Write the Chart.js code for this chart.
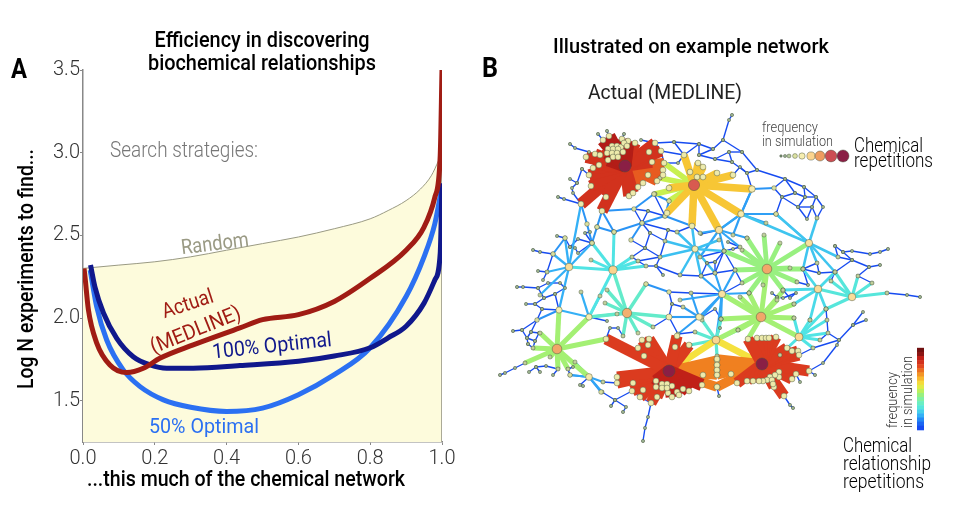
<!DOCTYPE html>
<html>
<head>
<meta charset="utf-8">
<script src="https://cdn.jsdelivr.net/npm/chart.js@4"></script>
<style>
  html, body { margin: 0; background: #fff; }
  canvas { position: absolute; top: 0; }
  #chartA { left: 0; }
  #chartB { left: 470px; }
</style>
</head>
<body>
<canvas id="chartA" width="470" height="520"></canvas>
<canvas id="chartB" width="490" height="520"></canvas>
<script>
// panel A series
const randomX = [0, .1, .2, .3, .4, .5, .6, .7, .8, .85, .9, .94, .97, .99, 1];
const randomY = [2.3, 2.32, 2.34, 2.37, 2.41, 2.45, 2.49, 2.54, 2.6, 2.65, 2.71, 2.78, 2.86, 2.95, 3.0];
const actualX = [.003, .006, .015, .038, .075, .122, .168, .214, .307, .437, .5, .6, .7, .8, .9, .95, .98, .995, 1];
const actualY = [2.3, 2.24, 2.05, 1.85, 1.716, 1.67, 1.696, 1.756, 1.837, 1.94, 1.99, 2.02, 2.1, 2.24, 2.41, 2.55, 2.73, 2.98, 3.5];
const optimal100X = [.021, .033, .057, .094, .14, .187, .233, .307, .437, .6, .7, .8, .85, .9, .95, .98, .995, 1];
const optimal100Y = [2.32, 2.19, 2.03, 1.877, 1.766, 1.716, 1.696, 1.696, 1.712, 1.738, 1.77, 1.82, 1.88, 1.95, 2.09, 2.23, 2.39, 2.815];
const optimal50X = [.02, .038, .066, .112, .159, .224, .3, .4, .5, .6, .7, .8, .9, .95, .98, 1];
const optimal50Y = [2.29, 2.07, 1.867, 1.686, 1.585, 1.505, 1.46, 1.435, 1.455, 1.536, 1.657, 1.82, 2.13, 2.37, 2.57, 2.795];
const edgeX = [1, 1];
const edgeY = [1.25, 3];
const xTicks = [0, .2, .4, .6, .8, 1];
const yTicks = [1.5, 2, 2.5, 3, 3.5];

// panel B: hubs [x, y, repetitions]
const hubs = [
  [625,166,1], [694,185,.75], [695,249,.34], [767,269,.62], [613,270,.5], [569,267,.45], [627,313,.6],
  [557,349,.62], [669,371,1], [762,364,1], [761,317,.62], [799,337,.48], [716,340,.48], [722,294,.42],
  [809,243,.42], [719,230,.42], [741,214,.36], [752,189,.36], [818,289,.45], [852,297,.45], [589,377,.38],
  [699,317,.36], [589,317,.34], [559,310,.34], [669,317,.32]
];
// fans: [hub index, edge frequency, target x,y list]
const fanTopDark = [0, .95, [603,140, 609,136, 622,139, 628,141, 612,146, 617,146, 621,147, 608,149, 613,149, 618,149, 623,152, 607,153, 612,153, 617,153, 608,160, 613,157, 618,157, 624,143, 627,146]];
const fanTopRed = [0, .9, [586,157, 595,154, 600,155, 635,143, 599,165, 593,168, 589,175, 591,186, 606,197, 602,211, 581,204, 629,196, 633,193, 649,152, 655,143, 661,151, 652,162]];
const fanTopOrange = [0, .84, [638,187, 643,183, 648,175, 657,181, 663,170, 663,175, 664,163]];
const fanMidOrange = [1, .7, [684,155, 698,163, 703,167, 717,173, 692,226, 719,230, 741,214, 752,189, 733,175, 667,213, 669,188, 697,177, 703,177, 690,172]];
const fanMidLime = [1, .58, [660,178, 664,163, 669,201, 655,194]];
const fanH3 = [2, .23, [692,226, 719,240, 660,257, 680,275, 701,276, 715,273, 665,241, 724,251, 677,232]];
const fanH4 = [3, .5, [724,251, 747,238, 735,270, 742,250, 780,243, 764,235, 809,243, 790,268, 803,269, 742,283, 749,293, 783,290, 797,282, 763,285]];
const fanH5 = [4, .3, [569,267, 592,243, 614,232, 591,260, 632,257, 589,317, 646,266, 638,261]];
const fanH6 = [5, .2, [565,238, 553,254, 547,272, 592,243, 559,310, 581,204, 540,295]];
const fanH7 = [6, .36, [605,303, 607,290, 613,270, 646,284, 669,317, 589,317, 617,314, 653,327, 638,333, 623,336]];
const fanH8 = [7, .52, [589,317, 606,339, 559,310, 589,377, 533,348, 525,363, 550,357, 540,333, 558,369, 568,369]];
const fanBotRed = [8, .88, [606,339, 638,348, 644,356, 642,340, 649,339, 648,345, 675,347, 677,336, 689,345, 617,377, 617,383, 633,383, 632,391, 643,390, 640,397, 651,403, 657,397, 668,393]];
const fanBotDark = [8, .94, [656,381, 662,384, 667,384, 672,386, 656,387, 662,388, 667,388, 677,392, 683,389, 689,391, 672,397, 679,395, 702,385]];
const fanBotOrange = [8, .8, [717,360, 717,365, 717,370, 717,375, 717,387]];
const fanBotYellow = [8, .66, [716,340]];
const fanRightRed = [9, .88, [748,339, 757,338, 762,338, 766,338, 769,338, 776,337, 787,348, 792,351, 798,351, 799,355, 809,371, 796,374, 792,379, 784,396, 779,372, 779,377, 775,375, 770,377, 767,380, 772,380, 763,381, 759,381, 753,381, 747,381, 737,383, 774,387, 773,384]];
const fanRightOrange = [9, .8, [717,359, 717,365, 717,370, 717,375, 731,374, 703,375, 717,387]];
const fanRightYellow = [9, .66, [716,340]];
const fanH11 = [10, .52, [767,269, 740,297, 749,293, 722,294, 794,304, 783,291, 777,300, 794,318, 721,319, 716,340, 738,330, 799,337, 748,339]];
const fanH12 = [11, .3, [794,318, 810,320, 827,320, 826,309, 828,333, 820,340, 813,348, 780,355]];
const fanH13 = [12, .34, [702,320, 721,319, 738,330, 695,332, 717,356, 690,345, 761,317]];
const fanH14 = [13, .18, [702,317, 721,319, 716,340, 715,273, 701,276, 749,293, 735,270, 680,300]];
const fanH15 = [14, .24, [776,214, 741,214, 803,269, 817,263, 835,272, 838,257, 817,218]];
const fanH16 = [15, .18, [741,214, 747,238, 740,247, 724,251, 700,233, 700,257]];
const fanH17 = [16, .17, [752,189, 776,214, 766,223, 733,235]];
const fanH19 = [18, .28, [794,304, 810,320, 835,272, 803,269, 783,290, 826,309]];
const fanH20 = [19, .32, [858,276, 835,272, 826,309, 831,281, 872,283, 887,293, 818,289]];
const fanH21 = [20, .18, [603,382, 602,392, 570,375, 575,362]];
const fanH22 = [21, .17, [669,317, 691,293, 683,307, 722,294, 678,334]];
const fanH23 = [22, .2, [559,310, 581,292, 600,296, 627,313]];

// mesh of low frequency links, each list is one path of x,y
const skyChains = [
  [581,204, 587,224, 592,243], [592,243, 597,227], [602,211, 597,227, 614,232, 602,211], [565,238, 553,254],
  [654,194, 634,209, 602,211], [654,194, 669,201, 665,216, 692,226], [614,232, 642,223, 631,240],
  [719,230, 741,214], [741,214, 776,214, 809,243], [752,189, 741,214], [752,189, 774,188], [646,284, 669,292],
  [669,317, 699,317], [537,320, 559,310], [601,392, 589,377], [589,377, 570,375], [665,216, 642,223]
];
const blueChains = [
  [641,140, 655,143, 674,142, 699,144, 713,149, 723,140, 729,120, 732,115], [655,143, 661,151, 684,155, 674,142],
  [684,155, 699,144, 699,155, 713,149], [699,155, 715,159, 729,152, 742,152, 723,140], [742,152, 757,170, 747,173, 732,162, 729,152],
  [715,159, 732,162], [757,170, 785,179, 774,188, 782,197, 795,193, 785,179, 804,187, 816,197, 805,197, 795,193],
  [804,187, 805,197, 798,207, 812,207, 816,197, 823,207, 817,218, 812,207, 807,219, 798,207, 782,197, 776,214],
  [752,189, 747,173, 740,167, 733,175], [661,151, 664,163, 678,163, 684,155], [664,163, 657,181],
  [634,209, 648,211, 665,216], [654,194, 665,216], [634,209, 642,223, 648,211], [642,223, 668,230, 665,241, 650,233, 642,223],
  [631,240, 645,248, 650,233], [645,248, 660,257, 665,241], [645,248, 632,257, 638,261, 646,266, 656,266, 660,257], [638,261, 660,257],
  [663,275, 656,266, 680,275], [668,230, 677,232, 692,226], [692,226, 701,234, 719,230], [680,275, 701,276, 715,273, 735,270, 724,251, 715,273],
  [724,251, 700,257], [669,292, 691,293, 722,294], [669,292, 672,304, 669,317, 653,327], [683,307, 672,304], [669,317, 678,334, 695,332, 716,340],
  [570,144, 575,148, 589,152], [582,169, 577,183, 572,188, 573,193, 581,204], [570,179, 577,183], [558,197, 564,199, 581,204], [582,169, 589,175],
  [598,134, 603,140], [607,131, 609,136], [624,134, 622,139], [557,236, 565,238], [533,250, 540,252, 553,254], [538,271, 547,272, 543,280],
  [565,238, 570,247, 578,239, 592,243], [570,247, 575,248, 578,253, 592,243], [590,232, 585,233, 592,243], [553,254, 547,272],
  [517,287, 523,287, 538,288, 544,298, 555,294, 565,288, 560,283, 548,283, 538,288], [526,304, 535,304, 542,309, 537,320, 522,330, 513,331],
  [537,320, 531,332, 539,333, 535,341, 527,338, 522,330], [544,298, 535,304], [555,294, 559,310, 542,309], [528,344, 533,348, 535,341], [531,332, 527,338, 528,344],
  [525,363, 515,368, 505,373, 500,375], [536,367, 546,366, 558,369, 553,375], [529,372, 536,367, 540,372], [568,369, 573,367], [568,369, 570,375],
  [589,377, 580,385, 583,386], [602,392, 615,400, 626,407, 623,412], [615,400, 611,406], [603,382, 617,383], [632,391, 615,400], [632,391, 640,397, 651,403, 648,417, 645,428, 643,441],
  [809,371, 823,363, 837,345, 839,340, 853,325, 866,320], [853,325, 863,312], [813,348, 839,340, 828,333], [813,348, 799,355], [826,309, 827,320, 828,333, 820,340],
  [835,246, 843,252, 852,251, 870,254, 880,252, 888,249], [835,246, 838,257, 852,260, 843,252], [852,260, 869,267, 880,265], [858,276, 869,267], [835,272, 852,260], [858,276, 872,283],
  [887,293, 907,295, 920,297], [784,396, 790,405, 793,408], [809,371, 815,375], [796,374, 800,382], [702,385, 717,387, 719,396],
  [606,339, 610,328, 618,328, 623,336], [607,321, 589,317], [772,293, 777,297, 783,290, 790,298, 796,293, 783,298, 777,297],
  [803,269, 819,273, 835,272, 831,281], [817,263, 803,269], [817,263, 819,273], [797,282, 808,285, 803,269], [702,317, 715,309, 721,319, 720,328, 716,340],
  [707,263, 715,262, 724,251], [715,262, 715,273], [707,263, 701,276], [728,242, 740,247, 733,249, 724,251], [735,270, 742,283, 722,294]
];
const leafEnds = [732,115, 570,144, 517,287, 500,375, 643,441, 920,297, 888,249, 880,265, 793,408, 815,375, 513,331, 558,197, 533,250, 598,134, 607,131, 624,134, 611,406, 623,412, 583,386, 719,396];
const sizeLegendX = [781, 785, 789, 795, 802, 811, 820, 831, 843];
const sizeLegendReps = [.03, .08, .14, .22, .34, .5, .65, .8, 1];
const colorBarLevels = [.02, .07, .13, .2, .26, .32, .38, .44, .5, .56, .62, .67, .72, .77, .82, .86, .9, .94, .98, 1];

const freqStops = [[0,'#1440f0'],[.1,'#1f78f4'],[.2,'#34b0f6'],[.3,'#50e4e4'],[.4,'#70f0b8'],[.5,'#98f080'],[.58,'#c8f050'],[.65,'#f4e840'],[.72,'#f8b830'],[.8,'#f08020'],[.87,'#e04020'],[.94,'#c02018'],[1,'#701010']];
const repStops = [[0,'#708870'],[.12,'#a8c098'],[.2,'#d8e0a0'],[.34,'#f6eeb0'],[.5,'#fbd48e'],[.65,'#ee9c60'],[.75,'#d85a50'],[.85,'#c04058'],[1,'#8a1f45']];

function mix(stops, v) {
  for (let i = 1; i < stops.length; i++) {
    if (v <= stops[i][0]) {
      const t = (v - stops[i-1][0]) / (stops[i][0] - stops[i-1][0]);
      const a = stops[i-1][1], b = stops[i][1];
      const ch = s => [1,3,5].map(k => parseInt(s.substr(k,2),16));
      const ca = ch(a), cb = ch(b);
      return 'rgb(' + ca.map((c,k) => Math.round(c + (cb[k]-c)*t)).join(',') + ')';
    }
  }
  return stops[stops.length-1][1];
}
const edgeWidth = f => 1.3 + 4*f + 5*f*f + 4*f*f*f*f;
// the size stops growing at the top of the range, only the colour goes on darkening
const nodeRadius = rep => 1.1 + 6*Math.min(rep, .82);

// draws plain text labels after the chart, coordinates are canvas pixels; w squeezes the text to that width
const textLabels = {
  id: 'textLabels',
  afterDraw(chart, args, opts) {
    const ctx = chart.ctx;
    opts.items.forEach(t => {
      ctx.save();
      ctx.translate(t.x, t.y + 1);
      ctx.rotate((t.rot || 0) * Math.PI / 180);
      ctx.font = t.font;
      ctx.scale(t.w / ctx.measureText(t.text).width, 1);
      ctx.fillStyle = t.color || '#000';
      ctx.textAlign = t.align || 'center';
      ctx.textBaseline = 'middle';
      ctx.fillText(t.text, 0, 0);
      ctx.restore();
    });
  }
};
Chart.register(textLabels);

const face = 'Roboto, "Liberation Sans"';
const pts = (xs, ys) => xs.map((x, i) => ({ x, y: ys[i] }));
const curve = (label, xs, ys, color) => ({
  label, data: pts(xs, ys), borderColor: color, borderWidth: 5, pointRadius: 0,
  showLine: true, cubicInterpolationMode: 'monotone', borderCapStyle: 'butt'
});

new Chart(document.getElementById('chartA'), {
  type: 'scatter',
  data: { datasets: [
    curve('Actual (MEDLINE)', actualX, actualY, '#a01c14'),
    curve('100% Optimal', optimal100X, optimal100Y, '#10188c'),
    curve('50% Optimal', optimal50X, optimal50Y, '#2b70f2'),
    { label: 'edge', data: pts(edgeX, edgeY), borderColor: '#8f8f80', borderWidth: 1.5, pointRadius: 0, showLine: true },
    { label: 'Random', data: pts(randomX, randomY), borderColor: '#9a9a84', borderWidth: 1, pointRadius: 0, showLine: true,
      cubicInterpolationMode: 'monotone', fill: 'start', backgroundColor: '#fdfbdc' }
  ]},
  options: {
    responsive: false,
    animation: false,
    layout: { autoPadding: false, padding: { top: 70, right: 28, left: 0, bottom: 0 } },
    plugins: {
      legend: { display: false },
      tooltip: { enabled: false },
      textLabels: { items: [
        { text: 'A', x: 19, y: 70, w: 16, font: 'bold 27px ' + face },
        { text: 'Efficiency in discovering', x: 262, y: 40, w: 215, font: '500 22px ' + face },
        { text: 'biochemical relationships', x: 262, y: 63, w: 228, font: '500 22px ' + face },
        { text: 'Search strategies:', x: 110, y: 150, w: 148, align: 'left', font: '300 22px ' + face, color: '#777' },
        { text: 'Random', x: 215, y: 244, w: 68, rot: -7, font: '21px ' + face, color: '#9a9a84' },
        { text: 'Actual', x: 188, y: 304, w: 53, rot: -18, font: '21px ' + face, color: '#a01c14' },
        { text: '(MEDLINE)', x: 196, y: 330, w: 96, rot: -22, font: '21px ' + face, color: '#a01c14' },
        { text: '100% Optimal', x: 272, y: 346, w: 120, rot: -6, font: '21px ' + face, color: '#10188c' },
        { text: '50% Optimal', x: 204, y: 427, w: 110, font: '21px ' + face, color: '#2b70f2' },
        { text: 'Log N experiments to find...', x: 27, y: 268, w: 240, rot: -90, font: '500 22px ' + face },
        { text: '...this much of the chemical network', x: 246, y: 479, w: 318, font: '500 22px ' + face }
      ]}
    },
    scales: {
      x: {
        type: 'linear', min: 0, max: 1,
        afterBuildTicks: s => { s.ticks = xTicks.map(value => ({ value })); },
        afterFit: s => { s.height = 78; },
        grid: { drawOnChartArea: false, color: '#888', tickLength: 3 },
        border: { color: '#888', width: 1.5 },
        ticks: { color: '#333', font: { family: 'Roboto', weight: 300, size: 20 }, padding: 2, maxRotation: 0, callback: v => v.toFixed(1) }
      },
      y: {
        min: 1.25, max: 3.5,
        afterBuildTicks: s => { s.ticks = yTicks.map(value => ({ value })); },
        afterFit: s => { s.width = 83; },
        grid: { drawOnChartArea: false, color: '#888', tickLength: 3 },
        border: { color: '#888', width: 1.5 },
        ticks: { color: '#333', font: { family: 'Roboto', weight: 300, size: 20 }, padding: 0, callback: v => v.toFixed(1) }
      }
    }
  }
});

// ---- panel B, network coordinates are read in picture pixels
const fans = [fanTopDark, fanTopRed, fanTopOrange, fanMidOrange, fanMidLime, fanH3, fanH4, fanH5, fanH6, fanH7, fanH8,
  fanBotRed, fanBotDark, fanBotOrange, fanBotYellow, fanRightRed, fanRightOrange, fanRightYellow, fanH11, fanH12, fanH13,
  fanH14, fanH15, fanH16, fanH17, fanH19, fanH20, fanH21, fanH22, fanH23];

const edges = [];
const nodes = [];
fans.forEach(([h, f, t]) => {
  for (let i = 0; i < t.length; i += 2) {
    edges.push({ a: [hubs[h][0], hubs[h][1]], b: [t[i], t[i+1]], f });
    nodes.push({ x: t[i], y: t[i+1], r: f > .6 ? .3 : .16 });
  }
});
const addChains = (chains, f, r) => chains.forEach(c => {
  for (let i = 0; i < c.length; i += 2) {
    if (i + 3 < c.length) edges.push({ a: [c[i], c[i+1]], b: [c[i+2], c[i+3]], f });
    nodes.push({ x: c[i], y: c[i+1], r });
  }
});
addChains(skyChains, .15, .2);
addChains(blueChains, .02, .09);
hubs.forEach(h => nodes.push({ x: h[0], y: h[1], r: h[2] }));
for (let i = 0; i < leafEnds.length; i += 2) nodes.push({ x: leafEnds[i], y: leafEnds[i+1], r: 0, leaf: true });
sizeLegendX.forEach((x, i) => nodes.push({ x, y: 156, r: sizeLegendReps[i] }));
nodes.sort((p, q) => p.r - q.r);
edges.sort((p, q) => q.f - p.f);

const colorBarSets = colorBarLevels.map((f, i) => ({
  data: [{ x: 917, y: 430 - i*4.1 - 2 }, { x: 924, y: 430 - i*4.1 - 2 }],
  borderColor: mix(freqStops, f), borderWidth: 4.6, pointRadius: 0, showLine: true, borderCapStyle: 'butt'
}));

const edgeSets = edges.map(e => ({
  data: [{ x: e.a[0], y: e.a[1] }, { x: e.b[0], y: e.b[1] }],
  borderColor: mix(freqStops, e.f), borderWidth: edgeWidth(e.f), pointRadius: 0, showLine: true, borderCapStyle: 'butt'
}));

new Chart(document.getElementById('chartB'), {
  type: 'scatter',
  data: { datasets: [
    {
      data: nodes,
      pointRadius: c => c.raw.leaf ? 1 : nodeRadius(c.raw.r),
      pointBackgroundColor: c => c.raw.leaf ? '#111' : mix(repStops, c.raw.r),
      pointBorderColor: c => c.raw.leaf ? '#111' : 'rgba(70,80,60,.75)',
      pointBorderWidth: .6
    },
    ...colorBarSets,
    ...edgeSets
  ]},
  options: {
    responsive: false,
    animation: false,
    layout: { autoPadding: false },
    plugins: {
      legend: { display: false },
      tooltip: { enabled: false },
      textLabels: { items: [
        { text: 'B', x: 20, y: 69, w: 16, font: 'bold 27px ' + face },
        { text: 'Illustrated on example network', x: 221, y: 47, w: 276, font: '500 21px ' + face },
        { text: 'Actual (MEDLINE)', x: 195, y: 93, w: 154, font: '21px ' + face, color: '#222' },
        { text: 'frequency', x: 292, y: 127, w: 56, align: 'left', font: '300 15px ' + face, color: '#444' },
        { text: 'in simulation', x: 292, y: 141, w: 71, align: 'left', font: '300 15px ' + face, color: '#444' },
        { text: 'Chemical', x: 384, y: 146, w: 69, align: 'left', font: '300 20px ' + face },
        { text: 'repetitions', x: 384, y: 161, w: 79, align: 'left', font: '300 20px ' + face },
        { text: 'frequency', x: 423, y: 427, w: 56, rot: -90, align: 'left', font: '300 15px ' + face, color: '#333' },
        { text: 'in simulation', x: 438, y: 427, w: 72, rot: -90, align: 'left', font: '300 15px ' + face, color: '#333' },
        { text: 'Chemical', x: 373, y: 446, w: 69, align: 'left', font: '300 20px ' + face },
        { text: 'relationship', x: 373, y: 464, w: 88, align: 'left', font: '300 20px ' + face },
        { text: 'repetitions', x: 373, y: 482, w: 81, align: 'left', font: '300 20px ' + face }
      ]}
    },
    scales: {
      x: { type: 'linear', display: false, min: 470, max: 960 },
      y: { type: 'linear', display: false, min: 0, max: 520, reverse: true }
    }
  }
});
</script>
</body>
</html>
